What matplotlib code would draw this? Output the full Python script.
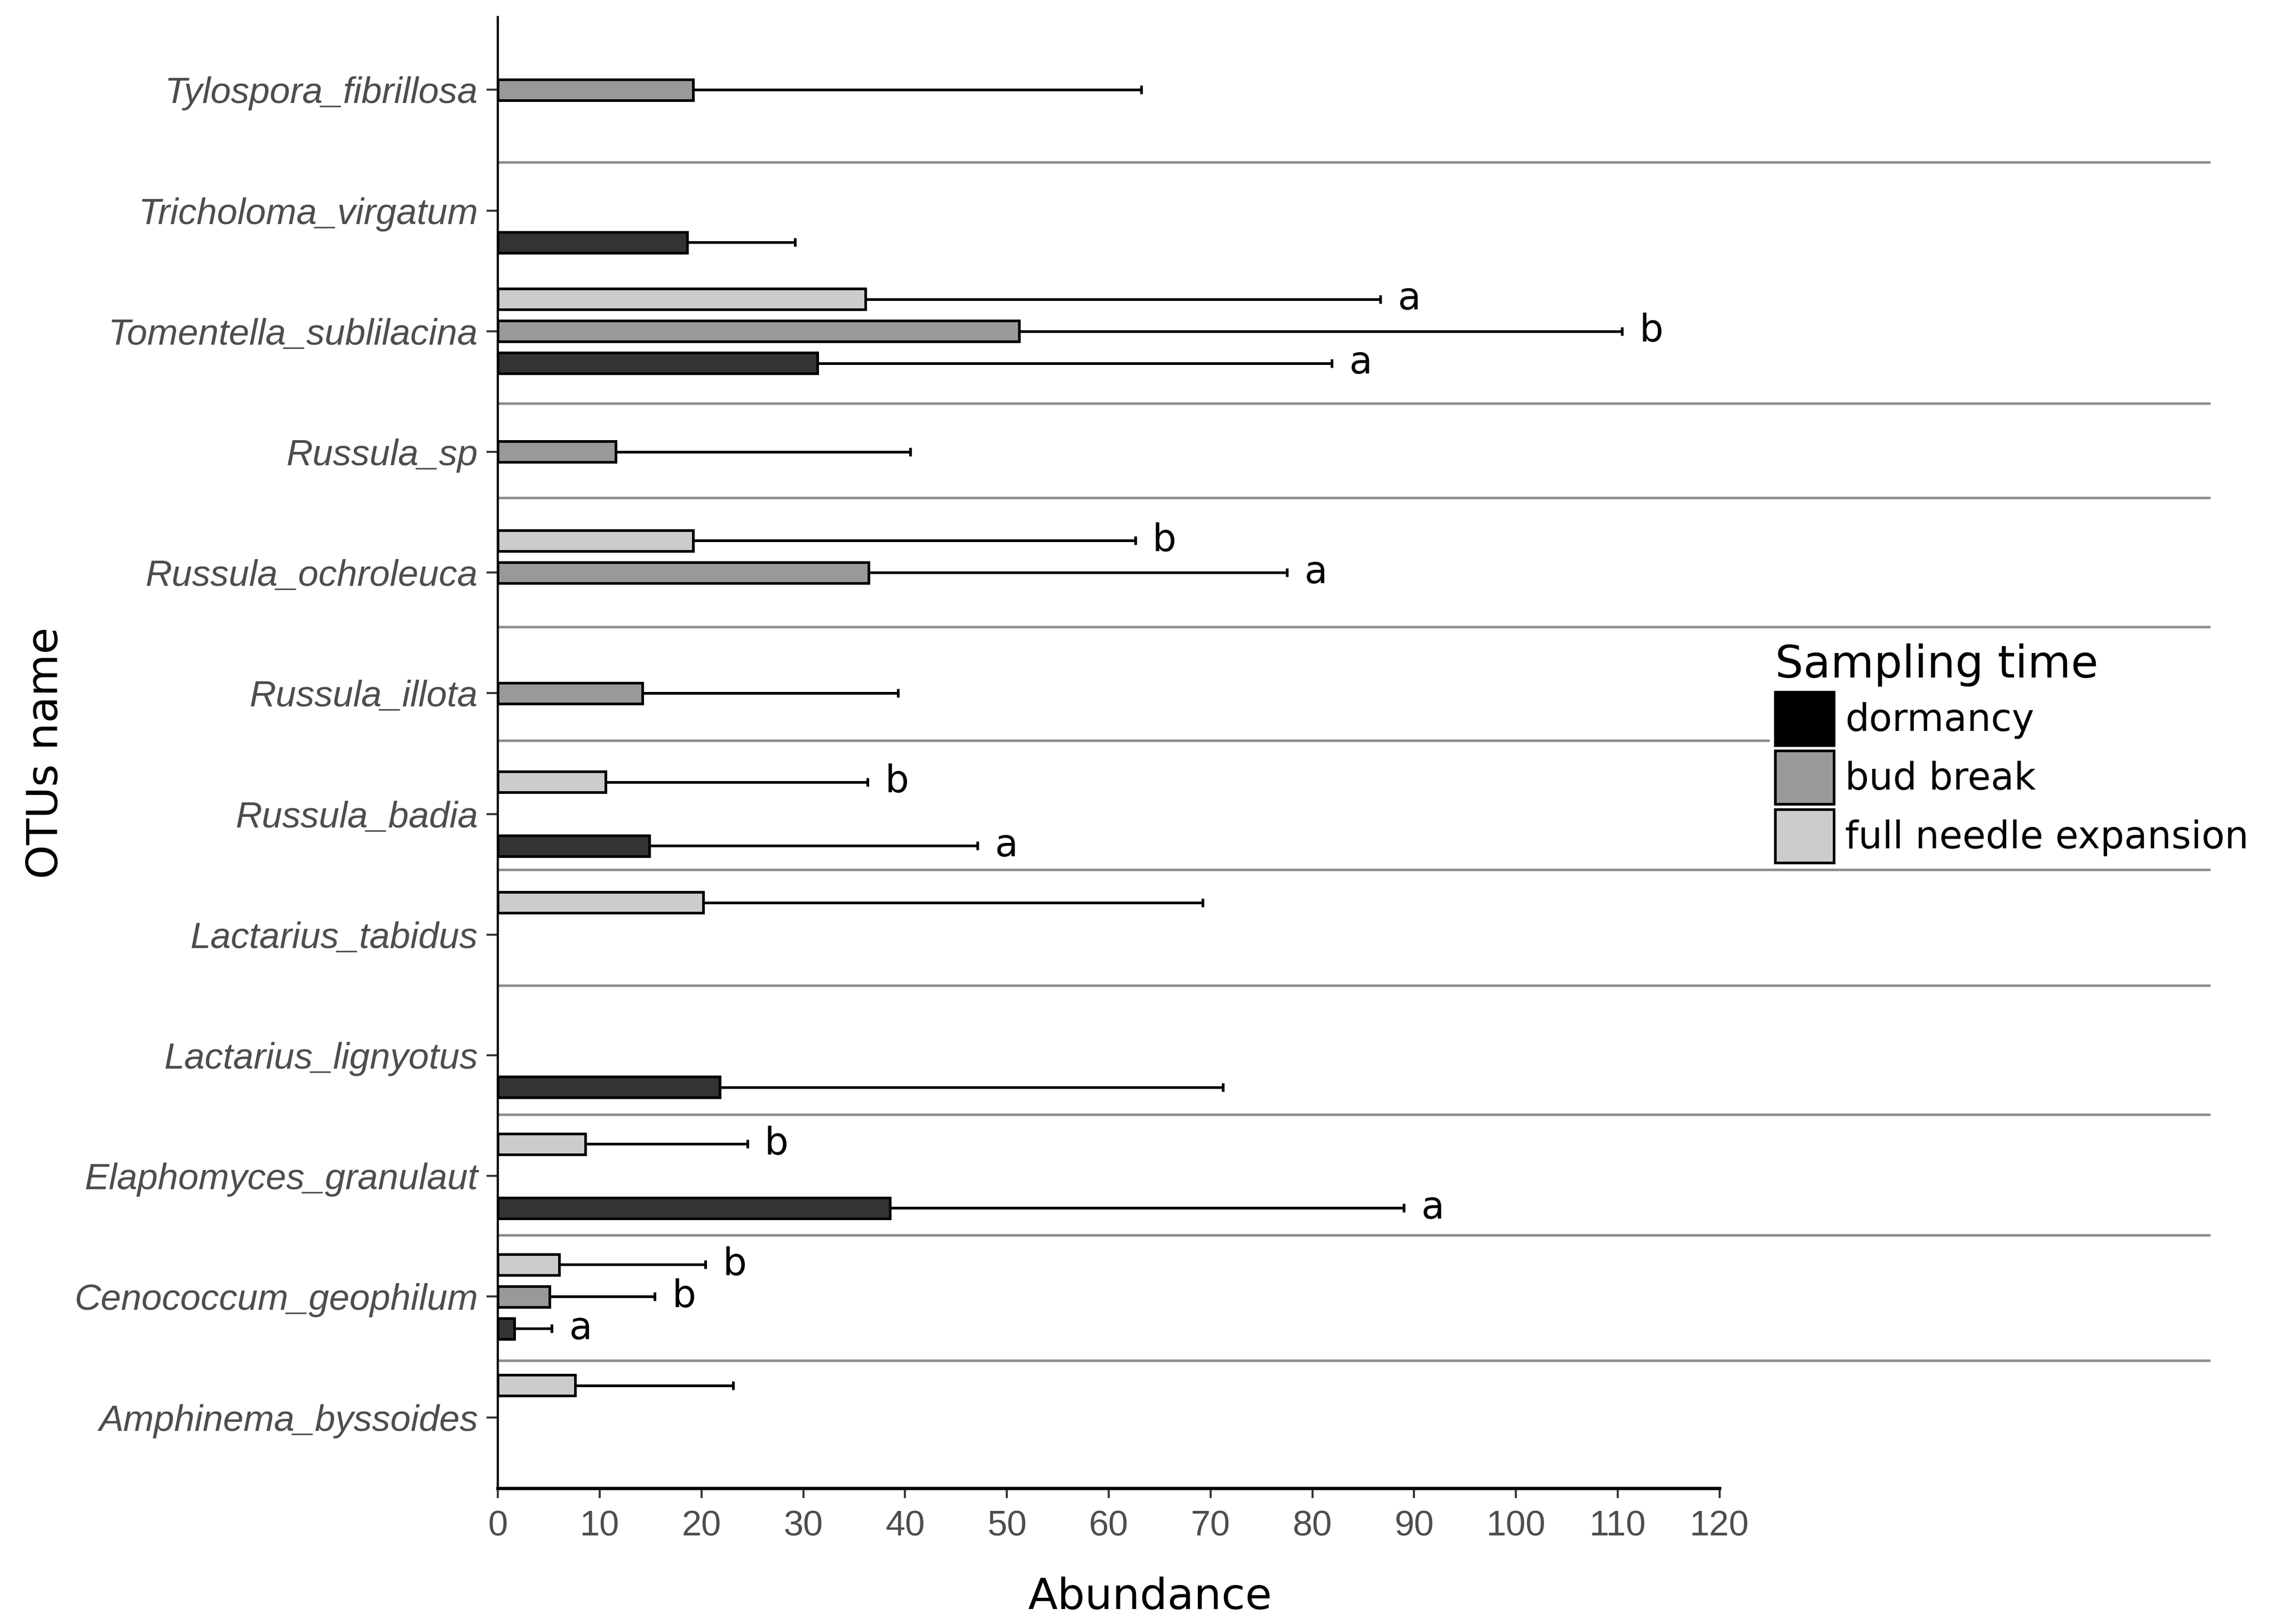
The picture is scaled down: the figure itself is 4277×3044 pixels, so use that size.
import numpy as np
import matplotlib
matplotlib.use('Agg')
import matplotlib.pyplot as plt
from matplotlib.patches import Patch

nan = np.nan

# OTUs, bottom to top
otus = ['Amphinema_byssoides', 'Cenococcum_geophilum', 'Elaphomyces_granulaut',
        'Lactarius_lignyotus', 'Lactarius_tabidus', 'Russula_badia',
        'Russula_illota', 'Russula_ochroleuca', 'Russula_sp',
        'Tomentella_sublilacina', 'Tricholoma_virgatum', 'Tylospora_fibrillosa']

groups = ['dormancy', 'bud break', 'full needle expansion']

# mean abundance and upper end of the error bar
dormancy = [nan, 1.6, 38.5, 21.8, nan, 14.9, nan, nan, nan, 31.4, 18.6, nan]
dormancy_hi = [nan, 5.3, 89.0, 71.2, nan, 47.1, nan, nan, nan, 81.9, 29.2, nan]
bud_break = [nan, 5.1, nan, nan, nan, nan, 14.2, 36.4, 11.6, 51.2, nan, 19.2]
bud_break_hi = [nan, 15.4, nan, nan, nan, nan, 39.3, 77.5, 40.5, 110.4, nan, 63.2]
full_needle = [7.6, 6.0, 8.6, nan, 20.2, 10.6, nan, 19.2, nan, 36.1, nan, nan]
full_needle_hi = [23.1, 20.4, 24.5, nan, 69.2, 36.3, nan, 62.6, nan, 86.7, nan, nan]

# significance letters
dormancy_lab = ['', 'a', 'a', '', '', 'a', '', '', '', 'a', '', '']
bud_break_lab = ['', 'b', '', '', '', '', '', 'a', '', 'b', '', '']
full_needle_lab = ['', 'b', 'b', '', '', 'b', '', 'b', '', 'a', '', '']

# grey separator lines (y positions in category units)
sep_lines = [1.47, 2.51, 3.51, 4.58, 5.54, 6.61, 7.55, 8.62, 9.40, 11.40]

xticks = list(range(0, 121, 10))

means = [dormancy, bud_break, full_needle]
highs = [dormancy_hi, bud_break_hi, full_needle_hi]
labs = [dormancy_lab, bud_break_lab, full_needle_lab]
fills = ['#333333', '#999999', '#cccccc']
key_fills = ['#000000', '#999999', '#cccccc']
offsets = [-0.265, 0.0, 0.265]

fig = plt.figure(figsize=(4277 / 300, 3044 / 300), dpi=300)
ax = fig.add_axes([0.21815, 0.08344, 0.75045, 0.90614])

ypos = np.arange(1, len(otus) + 1)
xmax = 168.2

for m, hi, lab, c, off in zip(means, highs, labs, fills, offsets):
    m = np.array(m)
    hi = np.array(hi)
    y = ypos + off
    ok = ~np.isnan(m)
    ax.barh(y[ok], m[ok], height=0.172, color=c, edgecolor='black',
            linewidth=1.2, zorder=3)
    ax.errorbar(m[ok], y[ok], xerr=[np.zeros(ok.sum()), hi[ok] - m[ok]],
                fmt='none', ecolor='black', elinewidth=1.2, capsize=2,
                capthick=1.2, zorder=2)
    for yy, h, t in zip(y, hi, lab):
        if t:
            ax.text(h + 1.7, yy, t, ha='left', va='center', fontsize=17,
                    family='DejaVu Sans', color='black')

ax.hlines(sep_lines, 0, xmax, colors='#8c8c8c', linewidth=1.1, zorder=1)

ax.set_xlim(0, xmax)
ax.set_ylim(0.41, 12.604)
for s in ['top', 'right']:
    ax.spines[s].set_visible(False)
ax.spines['bottom'].set_bounds(0, 120)
ax.spines['bottom'].set_linewidth(1.5)
ax.spines['left'].set_linewidth(1.0)

ax.set_xticks(xticks)
ax.set_xticklabels([str(t) for t in xticks], fontsize=16,
                   family='Liberation Sans', color='#4d4d4d')
ax.set_yticks(ypos)
ax.set_yticklabels(otus, fontsize=16.5, family='Liberation Sans',
                   style='italic', color='#4d4d4d')
ax.tick_params(axis='x', length=4.3, width=0.9, color='#333333', pad=5.5)
ax.tick_params(axis='y', length=5, width=0.9, color='#333333', pad=3.8)

ax.set_xlabel('Abundance', fontsize=19.5, family='DejaVu Sans')
ax.xaxis.set_label_coords(0.3807, -0.0598)
ax.set_ylabel('OTUs name', fontsize=19.5, family='DejaVu Sans')
ax.yaxis.set_label_coords(-0.2517, 0.5)

handles = [Patch(facecolor=c, edgecolor='black', linewidth=1.2) for c in key_fills]
leg = ax.legend(handles, groups, title='Sampling time', loc='upper left',
                bbox_to_anchor=(0.7755, 0.6074), bbox_transform=fig.transFigure,
                prop={'family': 'DejaVu Sans', 'size': 17},
                title_fontproperties={'family': 'DejaVu Sans', 'size': 20},
                handlelength=1.54, handleheight=1.8, labelspacing=0.14,
                handletextpad=0.31, borderpad=0.15, borderaxespad=0,
                frameon=True, fancybox=False, framealpha=1,
                facecolor='white', edgecolor='none', alignment='left')

fig.savefig('out.png', dpi=300)
